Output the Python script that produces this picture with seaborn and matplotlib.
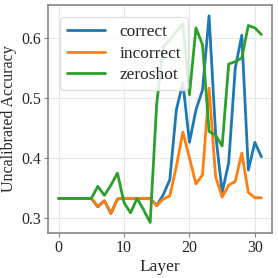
import numpy as np
import pandas as pd
import matplotlib
matplotlib.use("Agg")
import matplotlib.pyplot as plt
import seaborn as sns

# valores (capas 0..31)
capas = list(range(32))
correct = [0.333, 0.333, 0.333, 0.333, 0.333, 0.333, 0.319, 0.329, 0.308, 0.332,
           0.333, 0.333, 0.333, 0.333, 0.333, 0.321, 0.339, 0.364, 0.48, 0.525,
           0.426, 0.48, 0.513, 0.636, 0.44, 0.343, 0.392, 0.549, 0.604, 0.38,
           0.426, 0.402]
incorrect = [0.333, 0.333, 0.333, 0.333, 0.333, 0.333, 0.32, 0.329, 0.308, 0.332,
             0.333, 0.333, 0.333, 0.333, 0.332, 0.321, 0.332, 0.337, 0.386, 0.443,
             0.4, 0.357, 0.372, 0.516, 0.369, 0.335, 0.355, 0.361, 0.408, 0.343,
             0.334, 0.334]
zeroshot = [0.333, 0.333, 0.333, 0.333, 0.333, 0.333, 0.353, 0.338, 0.355, 0.375,
            0.326, 0.309, 0.333, 0.314, 0.293, 0.49, 0.585, 0.596, 0.61, 0.623,
            0.505, 0.616, 0.588, 0.444, 0.438, 0.42, 0.556, 0.56, 0.566, 0.62,
            0.616, 0.605]

df = pd.DataFrame({
    'Layer': capas * 3,
    'Accuracy': correct + incorrect + zeroshot,
    'tipo': ['correct'] * 32 + ['incorrect'] * 32 + ['zeroshot'] * 32,
})

sns.set_theme(style='whitegrid')
plt.rcParams['font.family'] = ['Liberation Serif', 'DejaVu Serif']

fig, ax = plt.subplots(figsize=(2.78, 2.78), dpi=100)
fig.subplots_adjust(left=0.173, right=0.978, top=0.982, bottom=0.162)

sns.lineplot(data=df, x='Layer', y='Accuracy', hue='tipo',
             palette=['#1f77b4', '#ff7f0e', '#2ca02c'], linewidth=2, ax=ax)

ax.set_xlim(-1.6, 32.6)
ax.set_ylim(0.2756, 0.654)
ax.set_xticks([0, 10, 20, 30])
ax.set_yticks([0.3, 0.4, 0.5, 0.6])
ax.set_xlabel('Layer', fontsize=12.5, labelpad=2)
ax.set_ylabel('Uncalibrated Accuracy', fontsize=11.5, labelpad=3)
ax.tick_params(labelsize=11.5, length=3, width=0.8, color='#808080', pad=2,
               left=True, bottom=True)
ax.grid(color='#e6e6e6', linewidth=0.8)
for s in ax.spines.values():
    s.set_color('#888888')
    s.set_linewidth(1.2)

leg = ax.legend(loc='upper left', fontsize=12.5, frameon=True, handlelength=2.2,
                borderaxespad=0.7, labelspacing=0.3)
leg.get_frame().set_edgecolor('#dddddd')
leg.get_frame().set_alpha(0.85)

fig.savefig('out.png', dpi=100)
